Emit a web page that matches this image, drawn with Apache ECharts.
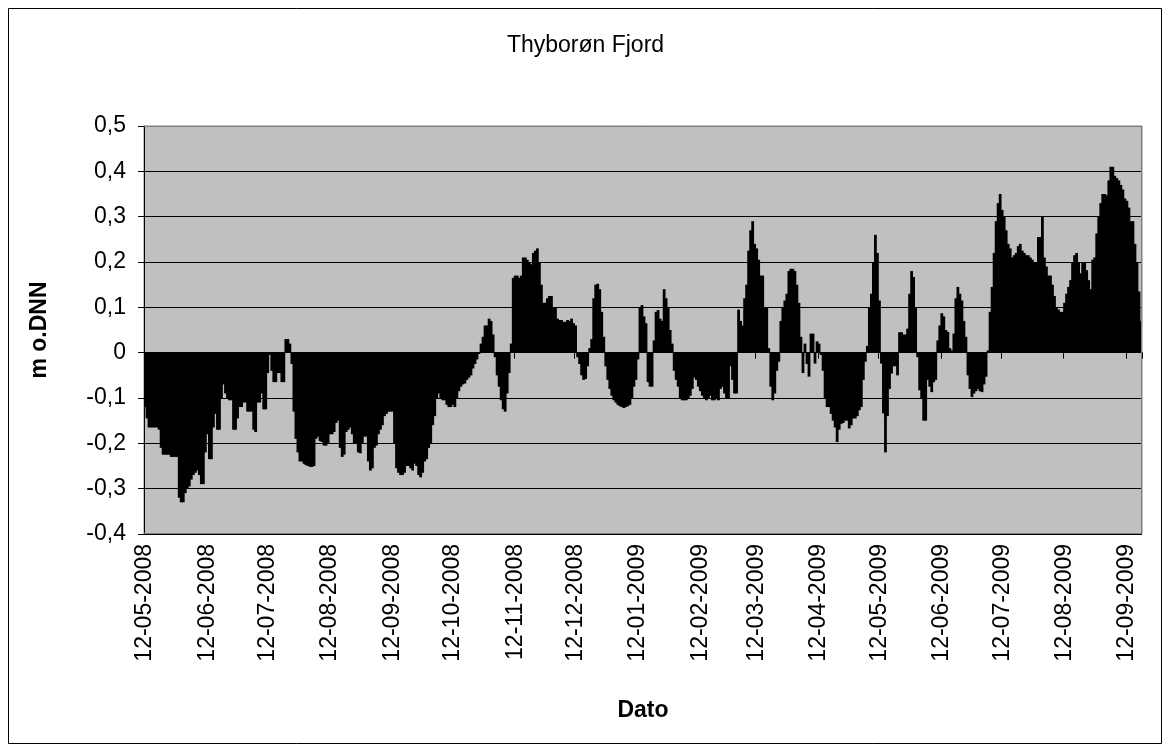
<!DOCTYPE html>
<html>
<head>
<meta charset="utf-8">
<style>
html,body{margin:0;padding:0;background:#fff;}
#chart{width:1171px;height:751px;}
</style>
<script src="https://cdn.jsdelivr.net/npm/echarts@6/dist/echarts.min.js"></script>
</head>
<body>
<div id="chart"></div>
<script>
// ---- data ----
const chartTitle = 'Thyborøn Fjord';
const yAxisTitle = 'm o.DNN';
const xAxisTitle = 'Dato';
const startDate = [2008, 5, 12]; // first day of daily series
const yTicks = [-0.4, -0.3, -0.2, -0.1, 0, 0.1, 0.2, 0.3, 0.4, 0.5];
const tickLabels = ['12-05-2008','12-06-2008','12-07-2008','12-08-2008','12-09-2008','12-10-2008','12-11-2008','12-12-2008','12-01-2009','12-02-2009','12-03-2009','12-04-2009','12-05-2009','12-06-2009','12-07-2009','12-08-2009','12-09-2009'];

// daily water level (m o.DNN), 12-05-2008 onward
const level2008a = [
-0.12,-0.145,-0.165,-0.165,-0.165,-0.165,-0.165,-0.17,-0.21,-0.225,
-0.225,-0.225,-0.225,-0.23,-0.23,-0.23,-0.23,-0.32,-0.33,-0.33,
-0.31,-0.3,-0.295,-0.28,-0.27,-0.265,-0.26,-0.27,-0.29,-0.29,
-0.22,-0.18,-0.235,-0.235,-0.165,-0.135,-0.17,-0.17,-0.1,-0.07,
-0.09,-0.1,-0.105,-0.105,-0.17,-0.17,-0.145,-0.12,-0.12,-0.11,
-0.11,-0.13,-0.13,-0.13,-0.17,-0.175,-0.11,-0.11,-0.09,-0.125,
-0.125,-0.045,-0.005,-0.04,-0.065,-0.065,-0.045,-0.045,-0.065,-0.065,
0.03,0.03,0.02,-0.025,-0.13,-0.19,-0.22,-0.24,-0.24,-0.245,
-0.248,-0.25,-0.252,-0.252,-0.25,-0.19,-0.185,-0.195,-0.197,-0.205,
-0.205,-0.2,-0.18,-0.18,-0.175,-0.155,-0.15,-0.21,-0.23,-0.225
];
const level2008b = [
-0.175,-0.17,-0.165,-0.18,-0.2,-0.2,-0.22,-0.222,-0.2,-0.185,
-0.185,-0.24,-0.26,-0.255,-0.21,-0.205,-0.18,-0.17,-0.16,-0.14,
-0.135,-0.13,-0.13,-0.13,-0.2,-0.255,-0.265,-0.27,-0.27,-0.265,
-0.25,-0.25,-0.255,-0.26,-0.245,-0.25,-0.27,-0.275,-0.265,-0.24,
-0.235,-0.21,-0.2,-0.16,-0.14,-0.1,-0.09,-0.1,-0.105,-0.105,
-0.115,-0.12,-0.12,-0.115,-0.12,-0.1,-0.085,-0.075,-0.07,-0.068,
-0.06,-0.055,-0.05,-0.035,-0.025,-0.015,-0.003,0.02,0.035,0.06,
0.06,0.075,0.07,0.04,-0.01,-0.05,-0.075,-0.105,-0.125,-0.13,
-0.09,-0.045,0.02,0.165,0.17,0.17,0.165,0.17,0.21,0.21,
0.205,0.2,0.195,0.22,0.225,0.23,0.2,0.15,0.11,0.11
];
const level2008c = [
0.12,0.125,0.125,0.1,0.1,0.075,0.072,0.072,0.068,0.068,
0.072,0.07,0.075,0.065,0.06,-0.01,-0.025,-0.05,-0.06,-0.058,
-0.03,0.01,0.03,0.12,0.15,0.152,0.14,0.09,0.035,-0.03,
-0.06,-0.08,-0.095,-0.105,-0.11,-0.115,-0.118,-0.12,-0.122,-0.12,
-0.118,-0.115,-0.1,-0.075,-0.06,-0.015,0.1,0.105,0.08,0.065,
-0.065,-0.075,-0.075,0.027,0.09,0.094,0.075,0.07,0.14,0.12,
0.1,0.05,0.02,-0.04,-0.06,-0.075,-0.1,-0.105,-0.105,-0.105,
-0.1,-0.095,-0.08,-0.055,-0.06,-0.075,-0.085,-0.095,-0.1,-0.105,
-0.1,-0.095,-0.105,-0.105,-0.1,-0.105,-0.08,-0.075,-0.09,-0.1,
-0.1,-0.03,-0.06,-0.09,-0.09,0.095,0.07,0.06,0.12,0.15
];
const level2009a = [
0.225,0.27,0.29,0.24,0.23,0.205,0.17,0.17,0.1,0.1,
0.01,-0.075,-0.105,-0.09,-0.04,-0.02,0.07,0.1,0.115,0.13,
0.18,0.185,0.185,0.18,0.15,0.11,0.035,-0.045,0.02,-0.025,
-0.053,0.042,0.042,-0.024,0.025,0.02,-0.005,-0.04,-0.1,-0.12,
-0.12,-0.135,-0.15,-0.165,-0.197,-0.17,-0.157,-0.155,-0.15,-0.15,
-0.167,-0.16,-0.145,-0.145,-0.14,-0.127,-0.12,-0.06,-0.02,0.015,
0.1,0.13,0.2,0.26,0.22,0.115,-0.024,-0.134,-0.22,-0.14,
-0.08,-0.046,-0.03,-0.03,-0.05,0.045,0.045,0.04,0.04,0.053,
0.13,0.18,0.167,0.1,-0.01,-0.083,-0.1,-0.15,-0.15,-0.06,
-0.075,-0.087,-0.065,-0.06,0.027,0.06,0.087,0.08,0.05,0.046
];
const level2009b = [
0.01,0.005,0.042,0.12,0.145,0.13,0.115,0.07,0.035,-0.05,
-0.08,-0.098,-0.09,-0.085,-0.08,-0.085,-0.087,-0.07,-0.053,0.005,
0.09,0.145,0.22,0.29,0.33,0.35,0.315,0.3,0.27,0.24,
0.23,0.21,0.215,0.22,0.235,0.24,0.225,0.22,0.215,0.215,
0.21,0.205,0.2,0.2,0.255,0.255,0.3,0.21,0.19,0.17,
0.17,0.15,0.125,0.1,0.095,0.09,0.09,0.11,0.13,0.145,
0.16,0.2,0.215,0.22,0.2,0.175,0.2,0.2,0.182,0.16,
0.14,0.205,0.21,0.263,0.3,0.33,0.35,0.35,0.347,0.38,
0.41,0.41,0.39,0.385,0.38,0.37,0.36,0.34,0.335,0.32,
0.29,0.29,0.24,0.2,0.135,0.07
];
const levels = [].concat(level2008a, level2008b, level2008c, level2009a, level2009b);

// ---- categories (one per day) ----
function pad(n){return (n<10?'0':'')+n;}
const dates = levels.map((_, i) => {
  const d = new Date(Date.UTC(startDate[0], startDate[1]-1, startDate[2] + i));
  return pad(d.getUTCDate()) + '-' + pad(d.getUTCMonth()+1) + '-' + d.getUTCFullYear();
});
const isTick = (idx, val) => tickLabels.indexOf(val) >= 0;

// ---- layout ----
const G = {left:144, top:126, right:1142, bottom:534};
const W = 1171, H = 751;
const FONT = 'Liberation Sans, Arial, sans-serif';
const FS = 23;

const chart = echarts.init(document.getElementById('chart'), null, {renderer:'canvas'});
chart.setOption({
  animation:false,
  backgroundColor:'#ffffff',
  title:{
    text: chartTitle, left:'center', top:29,
    textStyle:{fontFamily:FONT, fontSize:FS, fontWeight:'normal', color:'#000'}
  },
  grid:{
    left:G.left, top:G.top, right:W-G.right, bottom:H-G.bottom,
    show:true, backgroundColor:'#c0c0c0', borderColor:'#808080', borderWidth:1
  },
  xAxis:[{
    type:'category', data:dates, position:'bottom',
    boundaryGap:true,
    axisLine:{show:false, onZero:false},
    axisTick:{show:false},
    axisLabel:{interval:isTick, rotate:90, margin:10, fontFamily:FONT, fontSize:FS, color:'#000'},
    name:xAxisTitle, nameLocation:'middle', nameGap:165,
    nameTextStyle:{fontFamily:FONT, fontSize:FS, fontWeight:'bold', color:'#000'}
  },{
    type:'category', data:dates, position:'top',
    boundaryGap:true,
    axisLine:{show:true, onZero:true, lineStyle:{color:'#000', width:1}},
    axisTick:{show:true, interval:isTick, inside:true, length:6, lineStyle:{color:'#000'}},
    axisLabel:{show:false},
    splitLine:{show:false}
  }],
  yAxis:{
    type:'value', min:-0.4, max:0.5, interval:0.1,
    axisLine:{show:true, lineStyle:{color:'#000', width:1}},
    axisTick:{show:true, length:6, lineStyle:{color:'#000'}},
    splitLine:{show:true, lineStyle:{color:'#000', width:1}},
    axisLabel:{
      margin:18, fontFamily:FONT, fontSize:FS, color:'#000',
      formatter: v => Math.abs(v) < 1e-9 ? '0' : v.toFixed(1).replace('.', ',')
    },
    name:yAxisTitle, nameLocation:'middle', nameGap:93, nameRotate:90,
    nameTextStyle:{fontFamily:FONT, fontSize:FS, fontWeight:'bold', color:'#000'}
  },
  series:[{
    type:'bar', data:levels, xAxisIndex:0, yAxisIndex:0,
    barWidth:2.8,
    itemStyle:{color:'#000'},
    emphasis:{disabled:true},
    large:false
  }],
  graphic:[
    {type:'polyline', z:100, silent:true,
     shape:{points:[[G.left, G.top+0.5],[G.right-0.5, G.top+0.5],[G.right-0.5, G.bottom-0.5],[G.left, G.bottom-0.5]]},
     style:{stroke:'#808080', lineWidth:1, fill:null}},
    {type:'rect', z:100, silent:true,
     shape:{x:8.5, y:8.5, width:1153, height:735},
     style:{stroke:'#000', lineWidth:1, fill:null}}
  ]
});
</script>
</body>
</html>
